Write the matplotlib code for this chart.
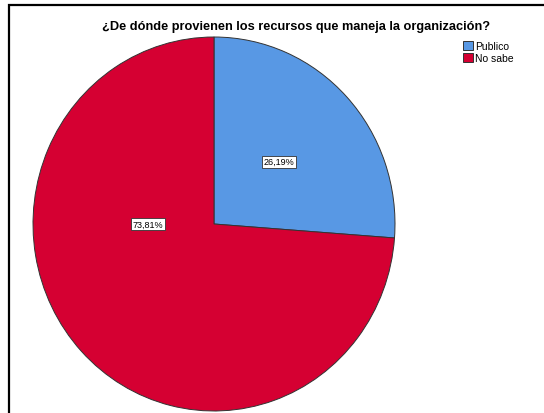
import matplotlib.pyplot as plt
from matplotlib.patches import Rectangle

# respuestas (conteos): 11/42 = 26,19 %, 31/42 = 73,81 %
categorias = ['Publico', 'No sabe']
conteos = [11, 31]
colores = ['#5898e4', '#d50032']
titulo = '¿De dónde provienen los recursos que maneja la organización?'

plt.rcParams['font.family'] = ['Liberation Sans', 'DejaVu Sans']

fig = plt.figure(figsize=(5.44, 4.14), dpi=100)

# marco exterior (solo arriba e izquierda visibles)
fig.patches.append(Rectangle((9 / 544, -0.1), 1.2, (414 - 6) / 414 + 0.1,
                             transform=fig.transFigure, fill=False,
                             edgecolor='black', linewidth=1.6))

fig.text(296 / 544, 1 - 27 / 414, titulo, ha='center', va='center',
         fontsize=9.2, fontweight='bold')

ax = fig.add_axes([33 / 544, 2 / 414, 362 / 544, 374 / 414])


def fmt(p):
    return f'{p:.2f}%'.replace('.', ',')


wedges, textos, pcts = ax.pie(conteos, colors=colores, startangle=90,
                              counterclock=False, autopct=fmt, pctdistance=0.49,
                              wedgeprops=dict(edgecolor='#333333', linewidth=0.7),
                              textprops=dict(fontsize=6.5))
ax.set_aspect('auto')
ax.set_xlim(-1, 1)
ax.set_ylim(-1, 1)
ax.axis('off')

# SPSS pone la etiqueta grande a la izquierda del centro
pcts[1].set_position((-0.365, 0.0))
for t in pcts:
    t.set_bbox(dict(facecolor='white', edgecolor='#333333', linewidth=0.6, pad=1.2))

leg = fig.legend(wedges, categorias, loc='upper left',
                 bbox_to_anchor=(458 / 544, 1 - 37 / 414), frameon=False,
                 fontsize=7.5, handlelength=0.95, handleheight=0.95,
                 handletextpad=0.15, labelspacing=0.15, borderpad=0)
for h in leg.legend_handles:
    h.set_edgecolor('#333333')
    h.set_linewidth(0.7)

fig.savefig('out.png', dpi=100)
